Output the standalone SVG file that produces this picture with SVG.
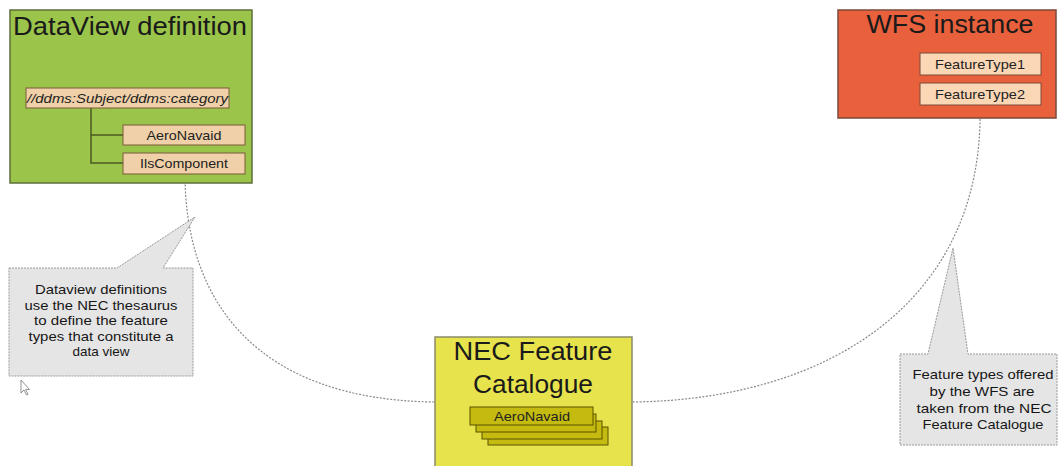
<svg xmlns="http://www.w3.org/2000/svg" width="1058" height="466" viewBox="0 0 1058 466">
<style>
.title{font-family:"Liberation Sans",Arial,sans-serif;font-size:26px;fill:#1a1a1a}
.item{font-family:"Liberation Sans",Arial,sans-serif;font-size:13px;fill:#222}
.tag{fill:#EFD0A8;stroke:#7a5a3a;stroke-width:1}
.tag2{fill:#FBD7B6;stroke:#7a4a3a;stroke-width:1}
.stack{fill:#C4BA10;stroke:#5a5200;stroke-width:1}
.note{fill:#E5E5E5;stroke:#999;stroke-width:1;stroke-dasharray:2,1}
.ntext{font-family:"Liberation Sans",Arial,sans-serif;font-size:13.5px;fill:#161616;text-anchor:middle}
.conn{fill:none;stroke:#8a8a8a;stroke-width:1.2;stroke-dasharray:2,1.5}
</style>
<rect width="1058" height="466" fill="#fff"/>
<g id="connectors">
<path class="conn" d="M185,174 C185,300 255,400 435,402"/>
<path class="conn" d="M980,105 C985,300 830,400 632,402"/>
</g>
<g id="dataview">
<rect x="10" y="10" width="242" height="173" fill="#9BC44A" stroke="#5c6e3a" stroke-width="1.5"/>
<text class="title" x="13" y="35" textLength="234" lengthAdjust="spacingAndGlyphs">DataView definition</text>
<path d="M91,108 V163 H123 M91,135 H123" fill="none" stroke="#4a5a20" stroke-width="1.5"/>
<rect class="tag" x="26" y="88" width="203" height="20"/>
<text class="item" x="27" y="103" font-style="italic" font-size="14" textLength="201" lengthAdjust="spacingAndGlyphs">//ddms:Subject/ddms:category</text>
<rect class="tag" x="123" y="125" width="122" height="20"/>
<text class="item" x="184" y="140" text-anchor="middle" textLength="75" lengthAdjust="spacingAndGlyphs">AeroNavaid</text>
<rect class="tag" x="123" y="153" width="122" height="21"/>
<text class="item" x="184" y="168" text-anchor="middle" textLength="88" lengthAdjust="spacingAndGlyphs">IlsComponent</text>
</g>
<g id="wfs">
<rect x="838" y="10" width="218" height="108" fill="#E8603C" stroke="#7a4a3a" stroke-width="1.5"/>
<text class="title" x="950" y="33" text-anchor="middle" textLength="167" lengthAdjust="spacingAndGlyphs">WFS instance</text>
<rect class="tag2" x="920" y="53" width="121" height="22"/>
<text class="item" x="980" y="69" text-anchor="middle" textLength="90" lengthAdjust="spacingAndGlyphs">FeatureType1</text>
<rect class="tag2" x="920" y="83" width="121" height="22"/>
<text class="item" x="980" y="99" text-anchor="middle" textLength="90" lengthAdjust="spacingAndGlyphs">FeatureType2</text>
</g>
<g id="nec">
<rect x="435" y="337" width="197" height="135" fill="#E7E34C" stroke="#8a8a6a" stroke-width="1.5"/>
<text class="title" x="533" y="360" text-anchor="middle" textLength="159" lengthAdjust="spacingAndGlyphs">NEC Feature</text>
<text class="title" x="533" y="393" text-anchor="middle" textLength="120" lengthAdjust="spacingAndGlyphs">Catalogue</text>
<rect class="stack" x="488" y="427" width="120" height="18"/>
<rect class="stack" x="482" y="421" width="120" height="18"/>
<rect class="stack" x="476" y="414" width="120" height="18"/>
<rect class="stack" x="470" y="407" width="123" height="18"/>
<text class="item" x="532" y="421" text-anchor="middle" textLength="76" lengthAdjust="spacingAndGlyphs">AeroNavaid</text>
</g>
<g id="note-left">
<path class="note" d="M9,268 H117 L195,217 L163,268 H193 V376 H9 Z"/>
<text class="ntext" x="101" y="294" textLength="132" lengthAdjust="spacingAndGlyphs">Dataview definitions</text>
<text class="ntext" x="101" y="309.5" textLength="153" lengthAdjust="spacingAndGlyphs">use the NEC thesaurus</text>
<text class="ntext" x="101" y="325" textLength="134" lengthAdjust="spacingAndGlyphs">to define the feature</text>
<text class="ntext" x="101" y="340.5" textLength="145" lengthAdjust="spacingAndGlyphs">types that constitute a</text>
<text class="ntext" x="101" y="356" textLength="57" lengthAdjust="spacingAndGlyphs">data view</text>
</g>
<g id="note-right">
<path class="note" d="M900,354 H928 L953,248 L968,354 H1057 V445 H900 Z"/>
<text class="ntext" x="983" y="379" textLength="141" lengthAdjust="spacingAndGlyphs">Feature types offered</text>
<text class="ntext" x="982" y="396" textLength="105" lengthAdjust="spacingAndGlyphs">by the WFS are</text>
<text class="ntext" x="984" y="413" textLength="135" lengthAdjust="spacingAndGlyphs">taken from the NEC</text>
<text class="ntext" x="983" y="429" textLength="121" lengthAdjust="spacingAndGlyphs">Feature Catalogue</text>
</g>
<g id="cursor">
<path d="M21,380 V393 L24,390 L26.5,395 L28,394.3 L25.6,389.5 L29.5,389.5 Z" fill="#fff" stroke="#777" stroke-width="0.8"/>
</g>
</svg>
